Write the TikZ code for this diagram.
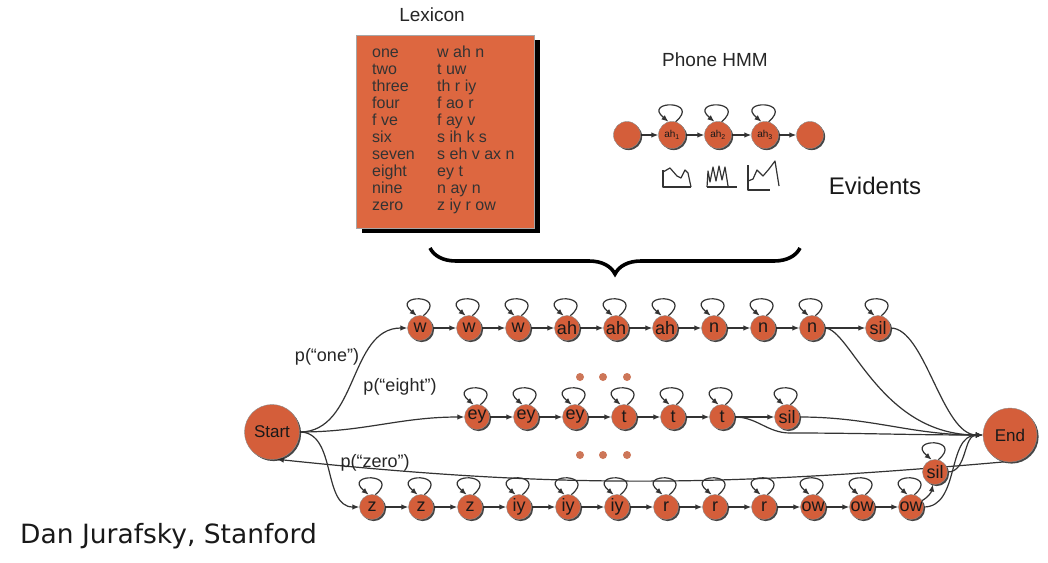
\documentclass[tikz,border=0pt]{standalone}
\usepackage{fontspec}
\setmainfont{Liberation Sans}
\newfontfamily\signfont{DejaVu Sans}
\usetikzlibrary{arrows.meta,shadows,backgrounds,decorations.pathreplacing}
\definecolor{hmmred}{RGB}{212,94,58}
\definecolor{lexred}{RGB}{221,103,64}
\definecolor{dotred}{RGB}{205,118,88}

\begin{document}
\begin{tikzpicture}[x=1pt,y=1pt,
  state/.style={circle, fill=hmmred, draw=black!45, line width=0.4pt, minimum size=25pt, inner sep=0pt,
    font=\fontsize{18}{18}\selectfont, text=black!90,
    drop shadow={shadow xshift=1.6pt, shadow yshift=-1.6pt, fill=black!85, opacity=0.85}},
  bigstate/.style={state, minimum size=55pt, font=\fontsize{17}{17}\selectfont},
  hmmstate/.style={state, minimum size=27pt, font=\fontsize{10}{10}\selectfont},
  edge/.style={draw=black!80, line width=1.2pt, -{Latex[length=7pt,width=5.5pt]}},
  selfloop/.style={edge, out=40, in=140, distance=34pt},
  lexentry/.style={anchor=base west, inner sep=0pt, font=\fontsize{16}{16}\selectfont, text=black!80},
  problabel/.style={inner sep=0pt, font=\fontsize{18}{18}\selectfont, text=black!85},
  sketch/.style={draw=black!80, line width=1.2pt, line join=round}]
	\useasboundingbox (0,0) rectangle (1048,-562);
	%Lexicon
	\node[font=\fontsize{19}{19}\selectfont, text=black!85] (lextitle) at (432,-15) {Lexicon};
	\fill[black] (362,-40) rectangle (540,-233);
	\filldraw[fill=lexred, draw=black!35] (356,-35) rectangle (534,-228);
	\foreach \w/\p [count=\i] in {one/w ah n, two/t uw, three/th r iy, four/f ao r, f ve/f ay v, six/s ih k s, seven/s eh v ax n, eight/ey t, nine/n ay n, zero/z iy r ow}
	{
		\node[lexentry] (lw\i) at (372,{-57-17*(\i-1)}) {\w};
		\node[lexentry] (lp\i) at (437,{-57-17*(\i-1)}) {\p};
	}
	%Phone HMM
	\node[font=\fontsize{19}{19}\selectfont, text=black!85] (hmmtitle) at (715,-60) {Phone HMM};
	\node[hmmstate] (ph0) at (627,-135) {};
	\node[hmmstate] (ph1) at (672,-135) {ah\textsubscript{1}};
	\node[hmmstate] (ph2) at (718,-135) {ah\textsubscript{2}};
	\node[hmmstate] (ph3) at (765,-135) {ah\textsubscript{3}};
	\node[hmmstate] (ph4) at (810,-135) {};
	\node[font=\fontsize{24}{24}\selectfont, text=black!90] (evid) at (875,-186) {Evidents};
	%Evidence sketches
	\draw[sketch] (663,-170) -- (663,-187) -- (691,-187);
	\draw[sketch] (663,-172) -- (670,-168) -- (677,-176) -- (681,-178) -- (685,-170) -- (688,-173) -- (691,-187);
	\draw[sketch] (707,-187) -- (737,-187);
	\draw[sketch] (707,-187) -- (708,-171) -- (710,-182) -- (713,-167) -- (716,-181) -- (719,-166) -- (722,-180) -- (725,-167) -- (728,-186);
	\draw[sketch] (748,-165) -- (748,-190) -- (770,-190);
	\draw[sketch] (748,-181) -- (753,-179) -- (757,-170) -- (763,-176) -- (769,-169) -- (775,-161) -- (779,-186);
	%Brace
	\draw[decorate, decoration={brace, mirror, amplitude=26pt}, line width=3.6pt] (430,-248) -- (800,-248);
	%Start and End
	\node[bigstate] (Start) at (272,-432) {Start};
	\node[bigstate, minimum size=54pt] (End) at (1010,-435) {End};
	%Word "one"
	\foreach \lab [count=\i] in {w,w,w,ah,ah,ah,n,n,n}
		\node[state] (one\i) at ({420+49*(\i-1)},-328) {\lab};
	\node[state] (onesil) at (878,-328) {sil};
	%Word "eight"
	\foreach \lab [count=\i] in {ey,ey,ey,t,t,t}
		\node[state] (eight\i) at ({477+49*(\i-1)},-417) {\lab};
	\node[state] (eightsil) at (787,-417) {sil};
	%Word "zero"
	\foreach \lab [count=\i] in {z,z,z,iy,iy,iy,r,r,r,ow,ow,ow}
		\node[state] (zero\i) at ({372+49*(\i-1)},-507) {\lab};
	\node[state] (zerosil) at (935,-472) {sil};
	\coordinate (dip) at (790,-433);
	%Dots
	\foreach \x [count=\i] in {580,603,627}
	{
		\fill[dotred] (\x,-377) circle (4);
		\fill[dotred] (\x,-455) circle (4);
	}
	%Labels
	\node[problabel] (pone) at (327,-357) {p(“one”)};
	\node[problabel] (peight) at (400,-387) {p(“eight”)};
	\node[problabel] (pzero) at (375,-463) {p(“zero”)};
	\node[anchor=base west, inner sep=0pt, font=\signfont\fontsize{26.5}{26.5}\selectfont, text=black!90] (sign) at (20,-543) {Dan Jurafsky, Stanford};
	%Connectors
	\begin{pgfonlayer}{background}
		\fill[white] (0,0) rectangle (1048,-562);
		\draw[edge] (ph0) -- (ph1);
		\draw[edge] (ph1) -- (ph2);
		\draw[edge] (ph2) -- (ph3);
		\draw[edge] (ph3) -- (ph4);
		\foreach \i in {1,2,3}
			\draw[selfloop] (ph\i.75) to (ph\i.105);
		\draw[edge] (Start.east) to[out=0,in=180] (one1.west);
		\draw[edge] (Start.east) to[out=0,in=180] (eight1.west);
		\draw[edge] (Start.east) to[out=0,in=180] (zero1.west);
		\foreach \i [evaluate=\i as \j using int(\i+1)] in {1,...,8}
			\draw[edge] (one\i) -- (one\j);
		\foreach \i in {1,...,9}
			\draw[selfloop] (one\i.75) to (one\i.105);
		\draw[edge] (one9) -- (onesil);
		\draw[selfloop] (onesil.75) to (onesil.105);
		\foreach \i [evaluate=\i as \j using int(\i+1)] in {1,...,5}
			\draw[edge] (eight\i) -- (eight\j);
		\foreach \i in {1,...,6}
			\draw[selfloop] (eight\i.75) to (eight\i.105);
		\draw[edge] (eight6) -- (eightsil);
		\draw[selfloop] (eightsil.75) to (eightsil.105);
		\foreach \i [evaluate=\i as \j using int(\i+1)] in {1,...,11}
			\draw[edge] (zero\i) -- (zero\j);
		\foreach \i in {1,...,12}
			\draw[selfloop] (zero\i.75) to (zero\i.105);
		\draw[edge] (zero12.30) to[out=30,in=-100] (zerosil.-100);
		\draw[selfloop] (zerosil.75) to (zerosil.105);
		%into End
		\draw[edge] (one9.east) .. controls (850,-328) and (880,-435) .. (End.west);
		\draw[edge] (onesil.east) .. controls (925,-328) and (942,-435) .. (End.west);
		\draw[draw=black!80, line width=1.2pt] (eight6.east) to[out=0,in=180] (dip);
		\draw[edge] (dip) to[out=0,in=180] (End.west);
		\draw[edge] (eightsil.east) to[out=0,in=180] (End.west);
		\draw[edge] (zero12.east) to[out=0,in=180] (End.west);
		\draw[edge] (zerosil.east) to[out=0,in=180] (End.west);
		%back to Start
		\draw[edge] (End.-100) to[out=185,in=-6] (Start.-80);
	\end{pgfonlayer}
\end{tikzpicture}
\end{document}
